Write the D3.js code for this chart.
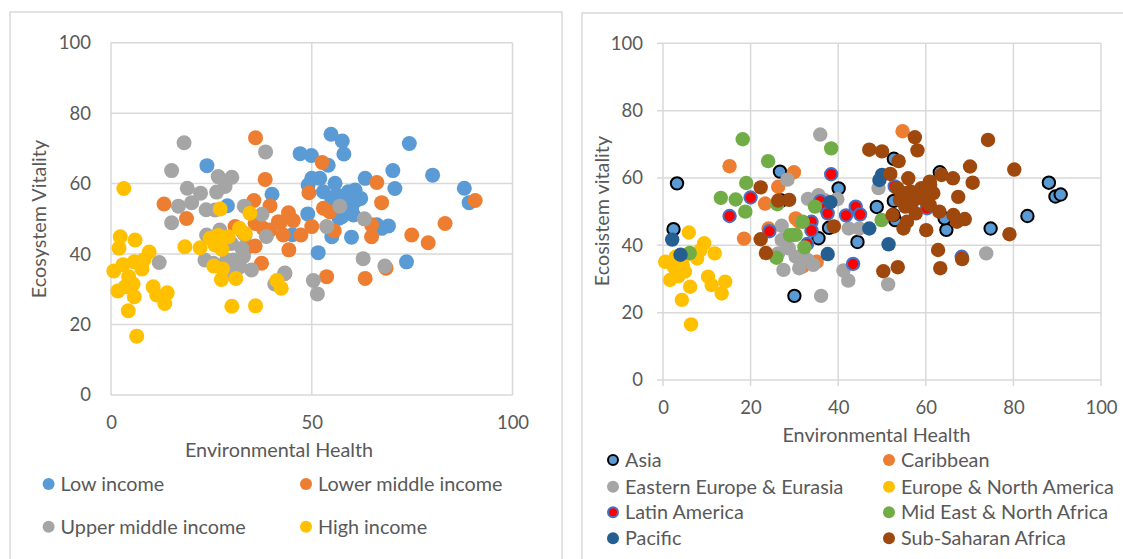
<!DOCTYPE html>
<html><head><meta charset="utf-8">
<script src="https://cdn.jsdelivr.net/npm/d3@7/dist/d3.min.js"></script>
<style>
body{margin:0;background:#fff;}
svg{display:block;font-family:Lato,"Open Sans",sans-serif;}
</style></head><body>
<svg id="c" width="1123" height="559"></svg>
<script>
// ---------- LEFT CHART DATA (income groups) ----------
const incomeLabels = ["Low income","Lower middle income","Upper middle income","High income"];
const incomeLow = [[23.9,65.1],[29.0,53.7],[40.1,57.0],[45.2,45.5],[47.1,68.5],[49.9,68.0],[54.8,74.0],[57.6,72.1],[58.0,68.4],[54.1,65.2],[50.0,61.5],[52.0,61.5],[49.1,59.6],[52.9,57.7],[55.8,60.1],[56.2,56.8],[59.1,57.7],[60.8,58.2],[61.2,55.4],[59.9,52.5],[57.5,50.6],[56.8,50.2],[60.4,51.1],[58.0,54.5],[55.0,55.5],[49.0,51.4],[51.6,40.4],[55.0,44.9],[59.9,44.8],[63.3,61.5],[70.2,63.7],[70.7,58.6],[74.3,71.4],[80.1,62.4],[88.0,58.7],[89.2,54.6],[66.2,48.3],[67.4,47.3],[69.1,48.0],[73.6,37.8],[62.2,55.8],[60.0,53.5]];
const incomeLowerMiddle = [[36.0,73.0],[13.2,54.2],[18.8,50.1],[38.4,61.2],[35.6,55.2],[39.6,53.7],[52.6,66.0],[49.3,57.4],[52.9,53.0],[54.5,52.0],[44.2,51.7],[45.4,49.5],[42.1,48.9],[35.9,48.7],[37.9,47.3],[39.6,46.8],[50.0,47.8],[47.3,45.4],[42.9,45.4],[55.6,46.6],[44.3,41.2],[35.9,42.3],[37.5,37.4],[53.7,33.6],[63.3,33.1],[64.9,44.9],[64.9,48.3],[66.2,60.3],[67.4,54.6],[74.9,45.4],[79.0,43.2],[83.2,48.7],[90.7,55.2],[68.5,36.0],[30.9,47.8],[34.2,42.1],[43.3,34.5],[41.7,49.2],[33.0,46.0]];
const incomeUpperMiddle = [[18.2,71.6],[15.1,63.7],[19.0,58.7],[22.3,57.3],[16.8,53.6],[20.1,54.6],[15.1,48.9],[26.7,62.0],[30.1,61.8],[28.4,59.2],[26.3,57.6],[23.7,52.6],[25.9,52.5],[12.0,37.6],[23.8,45.4],[27.1,46.8],[23.4,38.3],[25.5,37.4],[28.8,38.3],[30.5,38.3],[38.5,69.0],[33.2,53.6],[37.6,51.3],[38.7,45.0],[33.4,45.4],[32.6,41.6],[33.0,39.3],[32.1,36.4],[35.0,35.5],[43.3,34.6],[40.8,31.5],[50.4,32.5],[51.4,28.7],[53.7,47.8],[57.0,53.6],[62.8,38.7],[63.1,50.0],[68.2,36.6],[30.0,43.0],[29.0,35.0]];
const incomeHigh = [[3.2,58.6],[2.3,44.9],[6.0,44.0],[2.0,41.7],[9.5,40.6],[18.4,42.1],[22.2,41.8],[24.7,44.5],[26.7,45.3],[29.2,44.9],[27.6,41.4],[25.9,42.6],[27.2,52.8],[34.6,51.6],[32.0,47.3],[33.4,45.8],[0.7,35.2],[3.0,37.0],[5.8,37.8],[8.2,38.4],[7.7,35.8],[4.4,33.6],[5.5,31.5],[3.5,30.7],[1.7,29.5],[5.8,27.9],[10.5,30.7],[11.4,28.4],[14.0,29.0],[13.4,26.0],[4.3,23.9],[6.4,16.7],[25.6,36.6],[27.8,35.8],[27.5,32.8],[31.1,33.1],[30.1,25.2],[36.0,25.3],[41.3,32.5],[42.4,30.3]];

// ---------- RIGHT CHART DATA (regions) ----------
const regionLabels = ["Asia","Caribbean","Eastern Europe & Eurasia","Europe & North America","Latin America","Mid East & North Africa","Pacific","Sub-Saharan Africa"];
const regionAsia = [[3.2,58.4],[2.4,44.8],[26.7,61.9],[27.0,53.3],[30.0,25.0],[40.1,56.9],[48.8,51.4],[52.7,65.7],[44.4,41.0],[35.5,42.1],[37.9,45.2],[63.2,61.7],[64.7,44.6],[64.3,48.0],[74.8,45.0],[83.2,48.7],[88.1,58.6],[89.6,54.5],[90.8,55.1],[52.7,53.2],[53.0,47.5],[52.6,49.0]];
const regionCaribbean = [[15.2,63.5],[18.5,42.0],[29.9,61.7],[26.3,57.4],[23.3,52.4],[24.1,45.0],[30.3,48.0],[31.1,47.0],[35.1,35.1],[54.7,73.9],[31.9,33.7]];
const regionEastEurope = [[35.9,72.9],[28.4,59.5],[27.1,45.8],[33.1,53.8],[35.5,54.9],[39.8,53.7],[42.4,45.0],[44.8,45.0],[49.2,57.0],[73.8,37.6],[51.4,28.4],[36.1,25.0],[42.3,29.5],[41.2,32.5],[27.1,41.6],[26.3,37.6],[27.5,32.7],[30.3,36.6],[31.1,33.2],[33.1,35.6],[34.3,34.2],[28.7,39.1],[29.5,43.0],[36.8,53.5],[32.0,37.0]];
const regionEuropeNA = [[5.9,43.8],[9.4,40.6],[11.8,37.6],[0.5,35.1],[2.9,36.6],[5.0,37.1],[7.8,36.1],[4.5,34.0],[1.6,29.7],[5.0,32.2],[6.2,27.7],[3.5,30.8],[10.3,30.7],[11.1,28.2],[14.2,29.2],[13.4,25.7],[4.3,23.8],[6.4,16.5],[2.5,33.5],[8.5,38.5]];
const regionLatin = [[15.2,48.7],[20.0,54.2],[24.3,44.2],[38.4,61.1],[35.9,53.1],[37.1,51.0],[37.6,49.5],[33.9,47.0],[33.9,44.4],[32.9,40.4],[41.8,48.9],[44.0,51.5],[45.0,49.2],[52.9,57.5],[60.3,51.0],[43.4,34.5],[68.2,36.6]];
const regionMidEast = [[18.2,71.5],[24.0,65.0],[38.4,68.8],[19.0,58.5],[13.2,54.1],[16.6,53.6],[18.8,50.0],[26.1,52.2],[34.7,51.5],[31.9,47.0],[30.3,43.1],[32.3,39.4],[25.9,36.3],[6.1,37.7],[49.9,47.5],[29.0,43.0]];
const regionPacific = [[2.1,41.7],[4.0,37.2],[38.2,52.8],[49.4,59.4],[50.0,60.9],[47.1,45.0],[51.5,40.3],[37.6,37.4]];
const regionSSA = [[47.1,68.4],[50.0,67.9],[53.8,65.0],[57.5,72.1],[58.1,68.2],[51.9,61.2],[74.2,71.3],[80.2,62.5],[70.1,63.4],[70.7,58.6],[67.4,54.4],[63.6,60.9],[66.2,59.9],[61.0,57.9],[61.7,55.5],[63.1,50.0],[66.3,49.0],[67.1,47.0],[68.9,47.8],[60.1,44.5],[54.9,45.0],[52.4,49.0],[55.7,47.0],[62.8,38.6],[63.3,33.2],[68.3,35.9],[79.1,43.3],[50.3,32.3],[53.6,33.5],[22.3,57.2],[26.3,53.3],[28.8,53.5],[22.3,41.8],[23.5,37.7],[39.0,45.6],[56.0,59.9],[60.9,58.9],[54.1,53.5],[55.3,51.5],[57.7,49.5],[59.7,53.5],[60.9,52.0],[56.5,56.0],[58.5,55.0],[57.0,53.0],[59.0,57.0],[55.0,55.5],[53.5,57.0]];

// ---------- TICKS / TITLES ----------
const yTicks = [0,20,40,60,80,100];
const leftXTicks = [0,50,100];
const rightXTicks = [0,20,40,60,80,100];
const xTitle = "Environmental Health";
const leftYTitle = "Ecosystem Vitality";
const rightYTitle = "Ecosistem vitality";

const TXT = "#595959", GRID = "#d9d9d9", FS = 18.5, FT = 19.8;
const svg = d3.select("#c");

// panel frames
svg.append("rect").attr("x",10).attr("y",12).attr("width",552).attr("height",620)
  .attr("fill","none").attr("stroke",GRID).attr("stroke-width",1.5);
svg.append("rect").attr("x",582).attr("y",13).attr("width",620).attr("height",620)
  .attr("fill","none").attr("stroke",GRID).attr("stroke-width",1.5);

function drawChart(cfg){
  const x = d3.scaleLinear().domain([0,100]).range([cfg.x0,cfg.x1]);
  const y = d3.scaleLinear().domain([0,100]).range([cfg.y0,cfg.y1]);
  const g = svg.append("g");
  g.append("g").selectAll("line").data(yTicks).join("line")
    .attr("x1",x(0)-cfg.tick).attr("x2",x(100))
    .attr("y1",d=>y(d)).attr("y2",d=>y(d))
    .attr("stroke",GRID).attr("stroke-width",1.5);
  g.append("g").selectAll("line").data(cfg.xTicks).join("line")
    .attr("x1",d=>x(d)).attr("x2",d=>x(d))
    .attr("y1",y(0)+cfg.tick).attr("y2",y(100))
    .attr("stroke",GRID).attr("stroke-width",1.5);
  const ax = g.append("g").attr("transform",`translate(0,${y(0)})`)
    .call(d3.axisBottom(x).tickValues(cfg.xTicks).tickSize(0).tickPadding(21).tickFormat(d3.format("d")));
  const ay = g.append("g").attr("transform",`translate(${x(0)},0)`)
    .call(d3.axisLeft(y).tickValues(yTicks).tickSize(0).tickPadding(20).tickFormat(d3.format("d")));
  [ax,ay].forEach(a=>{
    a.select(".domain").remove();
    a.selectAll("text").attr("fill",TXT).style("font-size",FS+"px").style("font-family","Lato");
  });
  g.append("text").attr("x",cfg.xtx).attr("y",cfg.xty).attr("text-anchor","middle")
    .attr("fill",TXT).style("font-size",FT+"px").text(xTitle);
  g.append("text").attr("transform",`translate(${cfg.ytx},${cfg.yty}) rotate(-90)`)
    .attr("text-anchor","middle").attr("dy","0.35em")
    .attr("fill",TXT).style("font-size",FT+"px").text(cfg.yTitle);
  cfg.series.forEach(s=>{
    g.append("g").selectAll("circle").data(s.data).join("circle")
      .attr("cx",d=>x(d[0])).attr("cy",d=>y(d[1]))
      .attr("r",s.stroke? cfg.r-1 : cfg.r)
      .attr("fill",s.fill)
      .attr("stroke",s.stroke||"none").attr("stroke-width",s.stroke?2:0);
  });
  cfg.series.forEach((s,i)=>{
    const p = cfg.legendPos[i];
    const lg = svg.append("g");
    lg.append("circle").attr("cx",p[0]).attr("cy",p[1]).attr("r",s.stroke?5:6)
      .attr("fill",s.fill).attr("stroke",s.stroke||"none").attr("stroke-width",s.stroke?2:0);
    lg.append("text").attr("x",p[0]+cfg.legendGap).attr("y",p[1]).attr("dy","0.35em")
      .attr("fill",TXT).style("font-size",FT+"px").text(s.label);
  });
}

drawChart({
  x0:111, x1:512.5, y0:395, y1:42.7, tick:0, r:7.5,
  xTicks:leftXTicks, yTitle:leftYTitle,
  xtx:279, xty:457, ytx:39, yty:219,
  legendGap:12,
  legendPos:[[48.6,484],[306,484],[48.6,526.7],[306,526.7]],
  series:[
    {label:incomeLabels[0], data:incomeLow, fill:"#5b9bd5"},
    {label:incomeLabels[1], data:incomeLowerMiddle, fill:"#ed7d31"},
    {label:incomeLabels[2], data:incomeUpperMiddle, fill:"#a5a5a5"},
    {label:incomeLabels[3], data:incomeHigh, fill:"#ffc000"}
  ]
});

drawChart({
  x0:663, x1:1101, y0:380, y1:43.3, tick:6, r:7.2,
  xTicks:rightXTicks, yTitle:rightYTitle,
  xtx:876.5, xty:441.7, ytx:602, yty:211,
  legendGap:12,
  legendPos:[[613,460],[889,460],[613,486.7],[889,486.7],[613,512.3],[889,512.3],[613,538.3],[889,538.3]],
  series:[
    {label:regionLabels[0], data:regionAsia, fill:"#5b9bd5", stroke:"#000"},
    {label:regionLabels[1], data:regionCaribbean, fill:"#ed7d31"},
    {label:regionLabels[2], data:regionEastEurope, fill:"#a5a5a5"},
    {label:regionLabels[3], data:regionEuropeNA, fill:"#ffc000"},
    {label:regionLabels[4], data:regionLatin, fill:"#ff0000", stroke:"#4472c4"},
    {label:regionLabels[5], data:regionMidEast, fill:"#70ad47"},
    {label:regionLabels[6], data:regionPacific, fill:"#255e91"},
    {label:regionLabels[7], data:regionSSA, fill:"#9e480e"}
  ]
});
</script>
</body></html>
